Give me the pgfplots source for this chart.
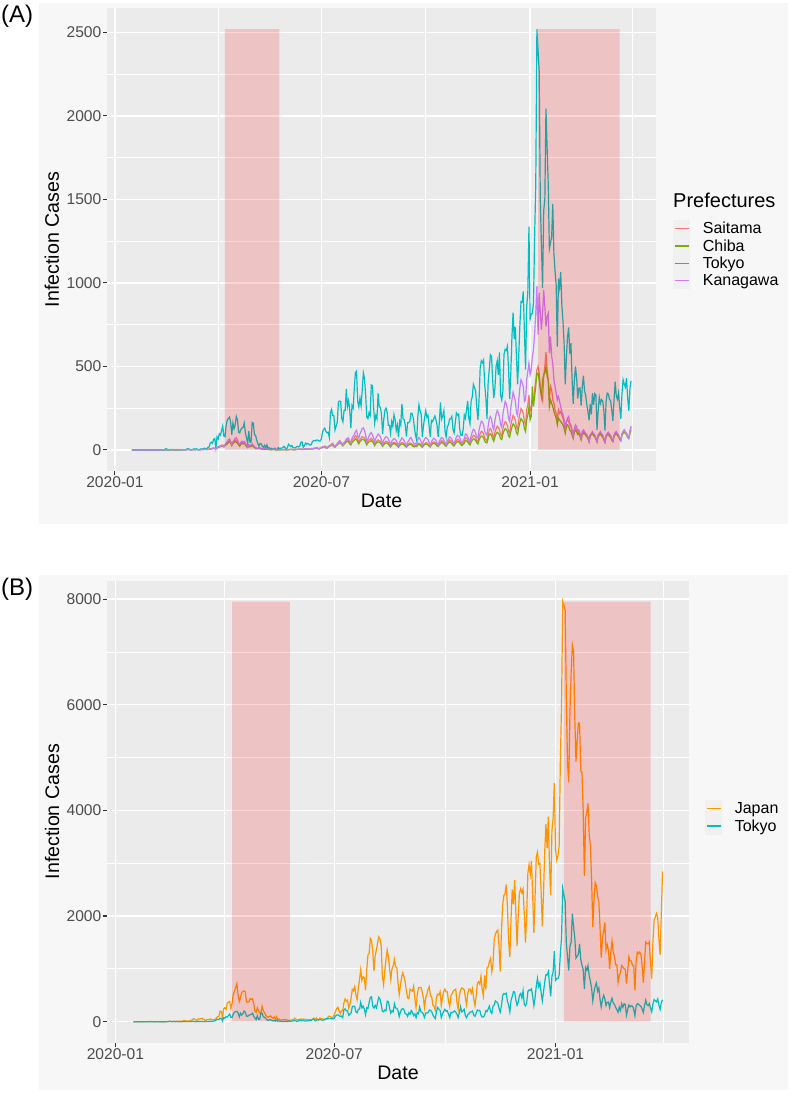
\documentclass[border=0pt]{standalone}
\usepackage{fontspec}
\setmainfont{Liberation Sans}
\usepackage{pgfplots}
\pgfplotsset{compat=1.18}
\usepackage{pgfplotstable}

\definecolor{panelbg}{HTML}{EBEBEB}
\definecolor{plotbg}{HTML}{F7F7F7}
\definecolor{keybg}{HTML}{F0F0F0}
\definecolor{saitama}{HTML}{F8766D}
\definecolor{chiba}{HTML}{7CAE00}
\definecolor{tokyo}{HTML}{00BFC4}
\definecolor{kanagawa}{HTML}{C77CFF}
\definecolor{japan}{HTML}{FF9500}
\definecolor{ticklab}{HTML}{4D4D4D}
\definecolor{tickcol}{HTML}{333333}

% daily new cases, one row per day from 2020-01-16 to 2021-03-31 (one line per week, Mon..Sun)
\pgfplotstableread[header=false,row sep=\\]{
0\\0\\0\\0\\
0\\0\\0\\0\\1\\0\\0\\
0\\0\\0\\1\\0\\0\\0\\
0\\0\\0\\0\\0\\0\\0\\
0\\0\\0\\1\\2\\8\\5\\
0\\3\\3\\0\\3\\1\\0\\
3\\0\\2\\1\\2\\1\\1\\
1\\1\\4\\8\\6\\3\\0\\
3\\2\\7\\3\\7\\2\\1\\
4\\7\\4\\7\\11\\7\\7\\
16\\17\\41\\47\\40\\63\\68\\
13\\78\\66\\97\\89\\116\\143\\
83\\79\\144\\178\\189\\197\\166\\
91\\161\\127\\149\\201\\181\\107\\
102\\123\\132\\134\\161\\103\\72\\
39\\112\\47\\46\\165\\160\\91\\
87\\58\\38\\23\\39\\36\\22\\
15\\28\\10\\30\\9\\14\\5\\
10\\5\\5\\11\\3\\2\\14\\
8\\10\\11\\15\\22\\14\\5\\
13\\34\\28\\20\\26\\14\\13\\
12\\18\\22\\18\\24\\47\\48\\
16\\27\\41\\35\\39\\35\\29\\
31\\48\\55\\57\\54\\60\\58\\
54\\54\\67\\107\\124\\131\\111\\
102\\106\\75\\224\\243\\206\\206\\
119\\143\\165\\286\\293\\290\\188\\
168\\237\\238\\366\\260\\295\\239\\
131\\266\\250\\367\\463\\472\\292\\
258\\309\\263\\360\\462\\429\\331\\
197\\188\\222\\206\\389\\385\\260\\
161\\207\\186\\339\\258\\256\\212\\
95\\182\\236\\250\\226\\148\\148\\
100\\170\\141\\211\\181\\116\\148\\
77\\170\\149\\276\\187\\181\\146\\
80\\163\\163\\171\\220\\218\\191\\
132\\88\\59\\195\\270\\235\\213\\
78\\144\\194\\235\\196\\207\\143\\
78\\177\\170\\186\\203\\180\\146\\
78\\166\\284\\185\\203\\235\\113\\
77\\139\\150\\185\\186\\201\\124\\
102\\158\\221\\209\\215\\123\\87\\
87\\122\\209\\189\\242\\294\\189\\
157\\293\\317\\393\\374\\352\\255\\
180\\298\\493\\534\\522\\539\\391\\
314\\186\\401\\481\\570\\561\\418\\
311\\372\\500\\533\\449\\584\\327\\
299\\352\\572\\602\\595\\621\\480\\
305\\460\\678\\822\\664\\736\\556\\
392\\563\\748\\888\\884\\949\\708\\
481\\856\\944\\1337\\783\\814\\816\\
884\\1278\\1591\\2520\\2392\\2268\\1494\\
1219\\970\\1433\\1502\\2044\\1809\\1592\\
1204\\1240\\1274\\1471\\1175\\1070\\986\\
618\\1026\\973\\1064\\868\\769\\633\\
393\\556\\676\\734\\577\\639\\429\\
276\\412\\500\\434\\307\\369\\371\\
266\\378\\445\\353\\327\\272\\230\\
178\\275\\213\\340\\270\\337\\329\\
121\\232\\316\\279\\301\\293\\237\\
116\\290\\340\\335\\304\\293\\239\\
175\\300\\409\\323\\303\\342\\256\\
187\\337\\420\\394\\376\\430\\313\\
234\\364\\414\\
}\tT

\pgfplotstableread[header=false,row sep=\\]{
1\\0\\0\\0\\
0\\0\\0\\0\\1\\1\\1\\
0\\1\\3\\2\\3\\2\\0\\
0\\1\\1\\1\\0\\0\\0\\
0\\1\\0\\1\\5\\8\\6\\
6\\5\\7\\10\\9\\9\\11\\
7\\10\\13\\21\\21\\10\\12\\
15\\15\\31\\33\\59\\47\\33\\
26\\54\\52\\56\\64\\42\\40\\
14\\44\\44\\39\\53\\40\\38\\
37\\43\\65\\96\\96\\200\\194\\
84\\242\\266\\235\\353\\367\\383\\
252\\351\\515\\576\\643\\720\\509\\
380\\457\\549\\574\\585\\568\\373\\
370\\375\\437\\421\\437\\348\\200\\
174\\263\\209\\164\\165\\294\\203\\
174\\123\\96\\85\\97\\110\\88\\
61\\88\\53\\96\\43\\51\\32\\
31\\38\\38\\45\\31\\31\\19\\
28\\29\\38\\37\\66\\49\\34\\
38\\41\\51\\46\\51\\39\\47\\
35\\39\\40\\37\\40\\45\\68\\
48\\72\\42\\29\\68\\57\\58\\
42\\36\\48\\52\\97\\105\\92\\
60\\86\\127\\195\\249\\274\\207\\
152\\212\\210\\355\\429\\386\\408\\
264\\332\\448\\613\\587\\665\\510\\
420\\630\\795\\983\\780\\847\\835\\
592\\983\\1264\\1301\\1579\\1536\\1330\\
959\\1240\\1357\\1485\\1605\\1566\\1445\\
861\\701\\965\\1178\\1359\\1234\\1010\\
796\\1002\\1053\\1180\\1035\\1031\\740\\
511\\689\\840\\927\\841\\756\\577\\
448\\437\\616\\592\\577\\672\\442\\
271\\509\\641\\645\\650\\575\\468\\
269\\449\\514\\612\\662\\483\\476\\
315\\290\\222\\464\\522\\509\\567\\
306\\469\\571\\618\\564\\565\\387\\
288\\491\\535\\581\\601\\617\\368\\
236\\487\\599\\639\\628\\608\\457\\
321\\533\\619\\620\\540\\628\\427\\
305\\488\\723\\756\\710\\859\\612\\
487\\876\\612\\1014\\1040\\1137\\1201\\
944\\1094\\1547\\1660\\1707\\1735\\1438\\
950\\1699\\2201\\2388\\2425\\2596\\2168\\
1518\\1228\\1946\\2504\\2223\\2684\\2067\\
1429\\2025\\2433\\2518\\2440\\2510\\2050\\
1497\\2014\\2810\\2973\\2788\\3041\\2380\\
1680\\2390\\3124\\3212\\2981\\2994\\2484\\
1805\\2424\\3211\\3740\\3284\\3881\\2944\\
2395\\3612\\3852\\4520\\3257\\3058\\3139\\
3319\\4915\\6004\\7950\\7880\\7790\\6094\\
4876\\4536\\5867\\6604\\7130\\7003\\5759\\
4925\\5320\\5654\\5648\\4749\\4716\\3988\\
2760\\3854\\3963\\4132\\3535\\3345\\2673\\
1794\\2324\\2631\\2576\\2370\\2279\\1783\\
1214\\1569\\1713\\1880\\1359\\1459\\1357\\
1000\\1308\\1527\\1310\\1240\\1076\\1080\\
745\\889\\921\\1064\\1038\\1003\\994\\
722\\964\\1228\\1149\\1150\\1063\\1065\\
600\\1129\\1316\\1287\\1318\\1276\\1065\\
738\\1120\\1507\\1475\\1473\\1510\\1116\\
816\\1517\\1920\\1987\\2051\\1966\\1541\\
1268\\2084\\2843\\
}\tJ

\pgfplotstableread[header=false,row sep=\\]{
1\\0\\0\\0\\
0\\0\\0\\0\\0\\0\\0\\
0\\0\\0\\0\\0\\0\\0\\
0\\0\\0\\0\\0\\0\\0\\
0\\0\\1\\2\\3\\1\\0\\
1\\2\\1\\3\\2\\1\\0\\
1\\2\\1\\3\\2\\1\\1\\
0\\2\\1\\3\\2\\1\\0\\
1\\3\\2\\1\\2\\1\\1\\
0\\2\\3\\1\\4\\3\\2\\
3\\5\\4\\6\\8\\10\\9\\
6\\12\\20\\18\\25\\28\\26\\
18\\30\\42\\48\\60\\66\\52\\
30\\48\\58\\70\\72\\60\\40\\
32\\46\\52\\44\\50\\38\\28\\
18\\32\\24\\30\\36\\28\\20\\
14\\10\\8\\14\\12\\9\\6\\
4\\8\\6\\5\\4\\3\\2\\
2\\4\\3\\5\\2\\1\\2\\
1\\2\\3\\4\\2\\3\\1\\
1\\3\\2\\4\\3\\2\\1\\
2\\3\\5\\4\\6\\3\\2\\
3\\6\\5\\8\\6\\4\\3\\
5\\8\\10\\9\\12\\10\\7\\
6\\12\\15\\18\\20\\16\\10\\
12\\20\\24\\28\\32\\26\\18\\
16\\28\\36\\42\\48\\40\\30\\
28\\44\\52\\66\\60\\70\\52\\
42\\70\\80\\92\\110\\118\\84\\
70\\96\\110\\128\\132\\118\\88\\
52\\66\\84\\98\\104\\90\\72\\
48\\70\\82\\96\\88\\80\\60\\
36\\58\\72\\80\\76\\66\\50\\
30\\52\\60\\68\\64\\56\\42\\
26\\48\\58\\72\\66\\54\\40\\
24\\46\\56\\68\\74\\60\\44\\
30\\40\\36\\62\\74\\66\\48\\
28\\52\\66\\74\\70\\62\\44\\
28\\50\\60\\70\\66\\58\\42\\
30\\52\\64\\74\\70\\60\\44\\
32\\54\\66\\78\\74\\64\\46\\
36\\60\\76\\88\\84\\72\\52\\
42\\56\\68\\96\\92\\80\\60\\
52\\84\\106\\124\\118\\100\\76\\
72\\118\\148\\172\\166\\150\\110\\
96\\88\\140\\188\\200\\184\\140\\
120\\176\\214\\236\\224\\198\\150\\
136\\212\\252\\290\\276\\246\\186\\
170\\252\\300\\346\\320\\292\\224\\
206\\300\\372\\420\\404\\380\\290\\
300\\420\\470\\520\\450\\480\\560\\
600\\700\\820\\980\\690\\940\\820\\
720\\818\\957\\860\\738\\800\\818\\
578\\678\\560\\520\\419\\380\\340\\
300\\320\\290\\259\\230\\210\\180\\
130\\170\\190\\200\\160\\150\\120\\
80\\130\\150\\140\\110\\120\\100\\
70\\110\\120\\110\\100\\90\\80\\
50\\90\\100\\110\\96\\90\\70\\
50\\90\\100\\110\\96\\90\\70\\
46\\86\\100\\106\\92\\88\\66\\
52\\84\\104\\110\\96\\88\\70\\
56\\96\\110\\120\\106\\100\\80\\
72\\110\\140\\
}\tK

\pgfplotstableread[header=false,row sep=\\]{
0\\0\\0\\0\\
0\\0\\0\\0\\0\\0\\0\\
0\\0\\0\\0\\0\\0\\0\\
0\\0\\0\\0\\0\\0\\0\\
0\\0\\0\\0\\0\\0\\1\\
0\\0\\1\\0\\1\\0\\0\\
0\\1\\0\\1\\2\\1\\0\\
1\\0\\2\\1\\3\\2\\1\\
2\\3\\1\\2\\4\\3\\2\\
1\\3\\4\\2\\5\\3\\4\\
3\\5\\6\\8\\10\\12\\9\\
8\\14\\18\\20\\26\\24\\30\\
22\\30\\38\\44\\50\\58\\48\\
30\\46\\52\\60\\56\\48\\36\\
28\\40\\46\\44\\50\\38\\24\\
18\\30\\22\\26\\32\\24\\16\\
12\\8\\10\\14\\10\\8\\6\\
4\\6\\5\\4\\3\\2\\2\\
1\\2\\3\\2\\1\\1\\2\\
1\\1\\2\\1\\2\\3\\1\\
2\\1\\3\\2\\4\\2\\3\\
2\\4\\3\\5\\4\\6\\3\\
4\\6\\5\\7\\8\\6\\5\\
5\\7\\9\\10\\12\\14\\10\\
8\\12\\16\\18\\20\\24\\18\\
14\\20\\24\\30\\36\\40\\28\\
20\\30\\38\\46\\56\\50\\40\\
32\\44\\50\\62\\70\\58\\46\\
40\\58\\66\\72\\86\\80\\60\\
48\\62\\70\\80\\76\\72\\58\\
40\\52\\60\\64\\70\\62\\50\\
34\\46\\54\\60\\56\\52\\40\\
28\\40\\46\\52\\50\\44\\32\\
24\\36\\42\\46\\44\\38\\30\\
22\\34\\40\\44\\42\\36\\28\\
20\\32\\38\\42\\40\\34\\26\\
22\\28\\26\\36\\40\\36\\28\\
20\\32\\38\\42\\44\\36\\28\\
24\\36\\44\\48\\46\\40\\30\\
26\\40\\48\\56\\52\\44\\34\\
28\\42\\52\\60\\56\\48\\36\\
30\\46\\56\\64\\60\\52\\40\\
34\\44\\52\\72\\70\\62\\48\\
40\\62\\76\\88\\84\\74\\56\\
50\\78\\98\\112\\108\\96\\72\\
60\\56\\92\\120\\128\\116\\88\\
70\\104\\126\\142\\136\\122\\92\\
84\\128\\152\\170\\162\\148\\112\\
100\\150\\180\\206\\196\\178\\136\\
124\\180\\216\\248\\236\\220\\170\\
150\\240\\270\\330\\230\\250\\290\\
300\\360\\420\\480\\500\\460\\380\\
330\\300\\440\\500\\585\\480\\420\\
300\\380\\360\\300\\280\\240\\220\\
180\\240\\220\\230\\210\\190\\160\\
120\\170\\180\\170\\150\\140\\110\\
80\\120\\130\\120\\100\\110\\90\\
70\\100\\110\\100\\96\\90\\76\\
56\\90\\96\\104\\94\\88\\70\\
54\\88\\96\\104\\92\\86\\66\\
50\\84\\96\\102\\90\\84\\64\\
56\\86\\100\\106\\94\\86\\68\\
60\\96\\110\\120\\108\\100\\80\\
74\\110\\140\\
}\tS

\pgfplotstableread[header=false,row sep=\\]{
0\\0\\0\\0\\
0\\0\\0\\0\\0\\0\\0\\
0\\0\\0\\0\\0\\0\\0\\
0\\0\\0\\0\\0\\0\\0\\
0\\0\\0\\0\\0\\0\\0\\
0\\0\\1\\0\\0\\1\\0\\
0\\0\\1\\0\\1\\2\\1\\
1\\2\\3\\2\\4\\2\\1\\
2\\1\\3\\2\\3\\2\\1\\
1\\2\\3\\2\\4\\3\\2\\
2\\4\\5\\6\\8\\10\\8\\
6\\10\\14\\16\\20\\24\\20\\
18\\24\\32\\36\\44\\52\\40\\
26\\38\\44\\50\\46\\40\\30\\
22\\34\\38\\36\\40\\30\\20\\
14\\24\\18\\22\\26\\20\\14\\
10\\8\\8\\12\\8\\6\\4\\
3\\5\\4\\3\\2\\2\\1\\
1\\2\\2\\1\\1\\0\\1\\
1\\1\\2\\1\\2\\1\\0\\
1\\1\\2\\2\\3\\1\\2\\
1\\3\\2\\4\\3\\4\\2\\
3\\4\\4\\5\\6\\5\\4\\
4\\6\\7\\8\\9\\10\\8\\
6\\10\\12\\14\\16\\18\\14\\
10\\16\\20\\24\\28\\30\\22\\
16\\24\\30\\36\\42\\40\\32\\
24\\34\\40\\48\\54\\46\\36\\
30\\44\\52\\58\\66\\62\\48\\
36\\50\\56\\64\\62\\58\\46\\
30\\42\\48\\52\\56\\50\\40\\
26\\38\\44\\48\\46\\42\\32\\
22\\32\\38\\42\\40\\36\\26\\
18\\30\\34\\38\\36\\30\\24\\
16\\28\\32\\36\\34\\30\\22\\
16\\26\\30\\34\\32\\28\\20\\
18\\24\\20\\30\\34\\30\\22\\
16\\26\\32\\36\\34\\30\\22\\
18\\30\\36\\40\\38\\32\\24\\
20\\32\\38\\44\\42\\36\\26\\
22\\34\\42\\48\\44\\38\\28\\
24\\36\\44\\52\\48\\42\\30\\
26\\34\\40\\56\\54\\48\\36\\
30\\48\\58\\66\\64\\56\\42\\
36\\60\\74\\84\\82\\72\\54\\
44\\42\\70\\92\\96\\86\\66\\
52\\78\\96\\106\\100\\90\\68\\
62\\96\\114\\128\\122\\110\\84\\
76\\112\\136\\156\\148\\134\\102\\
92\\136\\164\\188\\178\\166\\128\\
110\\180\\210\\260\\180\\200\\380\\
260\\320\\380\\460\\459\\420\\360\\
320\\420\\449\\460\\500\\440\\419\\
259\\300\\280\\260\\230\\210\\190\\
150\\190\\180\\170\\160\\150\\130\\
100\\140\\150\\140\\120\\110\\90\\
70\\110\\116\\110\\92\\100\\80\\
60\\92\\100\\96\\88\\80\\68\\
50\\84\\90\\96\\86\\80\\64\\
48\\80\\88\\96\\84\\78\\60\\
46\\78\\90\\94\\82\\76\\58\\
50\\80\\92\\98\\86\\80\\62\\
54\\88\\100\\110\\98\\92\\74\\
68\\100\\120\\
}\tC

\pgfplotsset{
  legend image code/.code={%
    \path[draw=none,fill=none] (0pt,-8.65pt) rectangle (17.3pt,8.65pt);
    \draw[line width=1.3pt] (1.6pt,0pt) -- (15.7pt,0pt);
  },
}
\pgfplotsset{
  gg/.style={
    scale only axis,
    anchor=south west,
    axis background/.style={fill=panelbg},
    axis line style={draw=none},
    xmin=-7, xmax=477,
    xtick={0,182,366},
    xticklabels={2020-01,2020-07,2021-01},
    minor xtick={91,274,456},
    xtick pos=bottom, ytick pos=left,
    grid=both,
    major grid style={draw=white, line width=1.5pt},
    minor grid style={draw=white, line width=0.75pt},
    major tick length=4pt, minor tick length=0pt,
    tick align=outside,
    major tick style={draw=tickcol, line width=1.1pt},
    tick label style={font=\fontsize{15.6}{18}\selectfont, text=ticklab, inner sep=1.5pt},
    xlabel={Date}, ylabel={Infection Cases},
    every axis x label/.style={at={(axis description cs:0.5,0)}, anchor=center, yshift=-30pt,
      font=\fontsize{19.6}{23}\selectfont},
    legend cell align=left,
    legend style={draw=none, fill=none, inner sep=0pt, outer sep=0pt, row sep=0pt,
      column sep=10.5pt, font=\fontsize{16}{19}\selectfont, anchor=north west},
    every axis plot/.append style={line width=1.2pt},
  }
}

\begin{document}
\begin{tikzpicture}
\path[use as bounding box] (0,0) rectangle (791pt,1100pt);
\fill[plotbg] (39pt,576pt) rectangle (788pt,1097pt);
\fill[plotbg] (39pt,10pt) rectangle (788pt,525pt);
% legend key backgrounds
\fill[keybg] (673pt,810.7pt) rectangle (690.3pt,879.9pt);
\fill[keybg] (705pt,265.4pt) rectangle (722.3pt,300pt);
\node[anchor=base west, font=\fontsize{24}{28}\selectfont, inner sep=0pt] at (1pt,1077.8pt) {(A)};
\node[anchor=base west, font=\fontsize{24}{28}\selectfont, inner sep=0pt] at (1pt,504.6pt) {(B)};

\begin{axis}[gg, at={(107pt,629pt)}, width=549pt, height=463pt,
  ymin=-126, ymax=2646,
  ytick={0,500,1000,1500,2000,2500}, yticklabels={0,500,1000,1500,2000,2500},
  minor ytick={250,750,1250,1750,2250},
  every axis y label/.style={at={(axis description cs:-0.1002,0.5)}, anchor=center, rotate=90,
    font=\fontsize{19.6}{23}\selectfont},
  legend style={at={(axis description cs:1.031,0.542)}}]
\addplot[color=saitama] table[x expr=\coordindex+15, y index=0] {\tS};
\addlegendentry{Saitama}
\addplot[color=chiba] table[x expr=\coordindex+15, y index=0] {\tC};
\addlegendentry{Chiba}
\addplot[color=tokyo] table[x expr=\coordindex+15, y index=0] {\tT};
\addlegendentry{Tokyo}
\addplot[color=kanagawa] table[x expr=\coordindex+15, y index=0] {\tK};
\addlegendentry{Kanagawa}
\addplot[draw=none, fill=red, fill opacity=0.17, forget plot] coordinates {(97,0) (97,2520) (145,2520) (145,0)} \closedcycle;
\addplot[draw=none, fill=red, fill opacity=0.17, forget plot] coordinates {(373,0) (373,2520) (445,2520) (445,0)} \closedcycle;
\end{axis}
\node[anchor=base west, font=\fontsize{20}{24}\selectfont, inner sep=0pt] at (673pt,892.7pt) {Prefectures};

\begin{axis}[gg, at={(107pt,57.3pt)}, width=582pt, height=462pt,
  ymin=-397.5, ymax=8347.5,
  ytick={0,2000,4000,6000,8000}, yticklabels={0,2000,4000,6000,8000},
  minor ytick={1000,3000,5000,7000},
  every axis y label/.style={at={(axis description cs:-0.0945,0.5)}, anchor=center, rotate=90,
    font=\fontsize{19.6}{23}\selectfont},
  legend style={at={(axis description cs:1.0275,0.5253)}}]
\addplot[color=japan] table[x expr=\coordindex+15, y index=0] {\tJ};
\addlegendentry{Japan}
\addplot[color=tokyo] table[x expr=\coordindex+15, y index=0] {\tT};
\addlegendentry{Tokyo}
\addplot[draw=none, fill=red, fill opacity=0.17, forget plot] coordinates {(97,0) (97,7950) (145,7950) (145,0)} \closedcycle;
\addplot[draw=none, fill=red, fill opacity=0.17, forget plot] coordinates {(373,0) (373,7950) (445,7950) (445,0)} \closedcycle;
\end{axis}
\end{tikzpicture}
\end{document}
